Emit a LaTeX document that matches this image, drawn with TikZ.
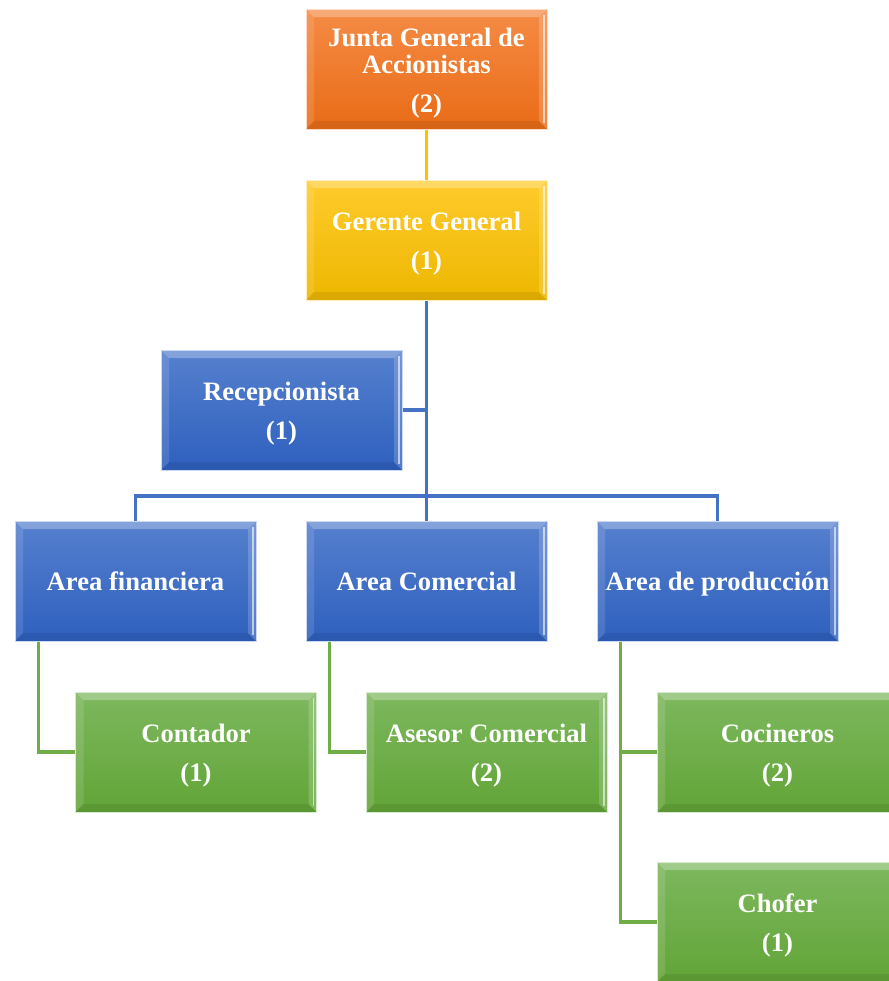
\documentclass[tikz,border=0pt]{standalone}
\usepackage{fontspec}
\setmainfont{Liberation Serif}
\begin{document}
\definecolor{orgT}{HTML}{F58B45}
\definecolor{orgB}{HTML}{E96C17}
\definecolor{yelT}{HTML}{FFCB2C}
\definecolor{yelB}{HTML}{EDB700}
\definecolor{bluT}{HTML}{5680CE}
\definecolor{bluB}{HTML}{2E60BE}
\definecolor{grnT}{HTML}{7DB85E}
\definecolor{grnB}{HTML}{62A437}
\definecolor{lnBlue}{HTML}{4472C4}
\definecolor{lnGreen}{HTML}{70AD47}
\definecolor{lnYel}{HTML}{FFC000}
\begin{tikzpicture}[x=0.5pt,y=-0.5pt,
  bevel/.style={path picture={
    \fill[white,opacity=0.28] (path picture bounding box.north west) -- (path picture bounding box.north east) -- ([shift={(-4pt,-4pt)}]path picture bounding box.north east) -- ([shift={(4pt,-4pt)}]path picture bounding box.north west) -- cycle;
    \fill[white,opacity=0.12] (path picture bounding box.north west) -- ([shift={(4pt,-4pt)}]path picture bounding box.north west) -- ([shift={(4pt,4pt)}]path picture bounding box.south west) -- (path picture bounding box.south west) -- cycle;
    \fill[white,opacity=0.18] (path picture bounding box.north east) -- ([shift={(-4pt,-4pt)}]path picture bounding box.north east) -- ([shift={(-4pt,4pt)}]path picture bounding box.south east) -- (path picture bounding box.south east) -- cycle;
    \draw[white,opacity=0.6,line width=0.8pt] ([shift={(-1.6pt,-3pt)}]path picture bounding box.north east) -- ([shift={(-1.6pt,3pt)}]path picture bounding box.south east);
    \fill[black,opacity=0.08] (path picture bounding box.south west) -- ([shift={(4pt,4pt)}]path picture bounding box.south west) -- ([shift={(-4pt,4pt)}]path picture bounding box.south east) -- (path picture bounding box.south east) -- cycle;
  }},
  box/.style={rectangle, minimum width=120.5pt, minimum height=60pt, inner sep=0pt,
    draw=white!70!#1T, line width=0.5pt, top color=#1T, bottom color=#1B, bevel},
  txt/.style={text=white, align=center, inner sep=0pt, font=\fontsize{13.3}{13.6}\selectfont\bfseries},
  two/.style={txt, yshift=-1.8pt},
  one/.style={txt, text depth=0pt},
  conn/.style={line width=1.6pt, #1},
]
\useasboundingbox (0,0) rectangle (889,981);
\node[box=org] (junta) at (426.5,69) {};
\node[box=yel] (gerente) at (426.5,240) {};
\node[box=blu] (recep) at (281.5,410) {};
\node[box=blu] (af) at (135.5,581) {};
\node[box=blu] (ac) at (426.5,581) {};
\node[box=blu] (ap) at (717.5,581) {};
\node[box=grn] (cont) at (196,752) {};
\node[box=grn] (ases) at (486.5,752) {};
\node[box=grn] (coc) at (777.5,752) {};
\node[box=grn] (chof) at (777.5,922) {};
\node[two] (tjunta) at (junta.center) {Junta General de\\Accionistas\\[5.8pt](2)};
\node[two] (tgerente) at (gerente.center) {Gerente General\\[5.8pt](1)};
\node[two] (trecep) at (recep.center) {Recepcionista\\[5.8pt](1)};
\node[one] (taf) at (af.center) {Area financiera};
\node[one] (tac) at (ac.center) {Area Comercial};
\node[one] (tap) at (ap.center) {Area de producción};
\node[two] (tcont) at (cont.center) {Contador\\[5.8pt](1)};
\node[two] (tases) at (ases.center) {Asesor Comercial\\[5.8pt](2)};
\node[two] (tcoc) at (coc.center) {Cocineros\\[5.8pt](2)};
\node[two] (tchof) at (chof.center) {Chofer\\[5.8pt](1)};
\coordinate (busL) at (135.5,496);
\coordinate (busR) at (717.5,496);
\coordinate (busM) at (426.5,496);
\coordinate (rj) at (426.5,410);
% connectors
\draw[conn=lnYel] (junta.south) -- (gerente.north);
\draw[conn=lnBlue] (gerente.south) -- (busM) -- (ac.north);
\draw[conn=lnBlue] (af.north) -- (busL) -- (busR) -- (ap.north);
\draw[conn=lnBlue] (recep.east) -- (rj);
\draw[conn=lnGreen] ([xshift=12pt]af.south west) |- (cont.west);
\draw[conn=lnGreen] ([xshift=12pt]ac.south west) |- (ases.west);
\draw[conn=lnGreen] ([xshift=12pt]ap.south west) |- (coc.west);
\draw[conn=lnGreen] ([xshift=12pt]ap.south west) |- (chof.west);
\end{tikzpicture}
\end{document}
